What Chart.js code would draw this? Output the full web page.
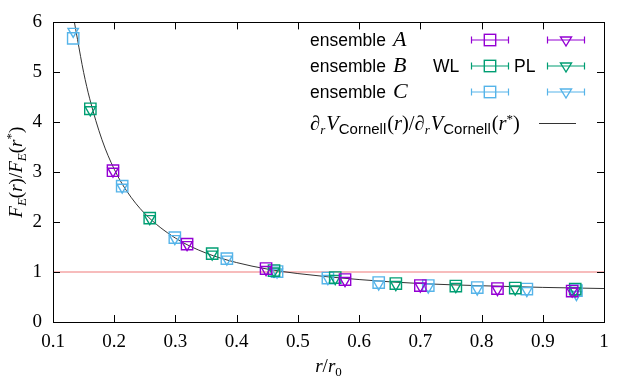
<!DOCTYPE html>
<html lang="en">
<head>
  <meta charset="UTF-8">
  <title>Force ratio vs r/r0</title>
  <style>
    html, body { margin: 0; padding: 0; background: #fff; }
    #wrap { width: 635px; height: 381px; }
  </style>
</head>
<body>
<div id="wrap"><canvas id="chart" width="635" height="381"></canvas></div>

<script src="https://cdn.jsdelivr.net/npm/chart.js"></script>
<script>
  // ensemble A (purple)
  const rA   = [0.198, 0.319, 0.448, 0.577, 0.700, 0.826, 0.948];
  const aWL  = [3.03, 1.56, 1.07, 0.85, 0.73, 0.67, 0.62];
  const aPL  = [3.02, 1.55, 1.05, 0.83, 0.72, 0.65, 0.62];

  // ensemble B (green)
  const rB   = [0.161, 0.258, 0.360, 0.461, 0.561, 0.660, 0.758, 0.855, 0.953];
  const bWL  = [4.27, 2.08, 1.37, 1.03, 0.89, 0.77, 0.72, 0.68, 0.66];
  const bPL  = [4.25, 2.07, 1.36, 1.02, 0.87, 0.75, 0.71, 0.66, 0.63];

  // ensemble C (light blue)
  const rC   = [0.133, 0.213, 0.299, 0.384, 0.466, 0.549, 0.632, 0.713, 0.793, 0.874, 0.955];
  const cWL  = [5.68, 2.72, 1.69, 1.27, 1.01, 0.88, 0.79, 0.73, 0.69, 0.66, 0.63];
  const cPL  = [5.82, 2.70, 1.67, 1.26, 1.00, 0.87, 0.76, 0.70, 0.66, 0.63, 0.55];

  // Cornell force ratio curve
  const curveR = [0.135, 0.14, 0.15, 0.16, 0.18, 0.20, 0.22, 0.25, 0.30, 0.35, 0.40, 0.45, 0.50, 0.60, 0.70, 0.80, 0.90, 1.00];
  const curveV = [6.00, 5.66, 5.00, 4.47, 3.65, 3.06, 2.63, 2.17, 1.68, 1.38, 1.19, 1.06, 0.97, 0.85, 0.77, 0.726, 0.693, 0.67];

  const refR = [0.1, 1.0];
  const refV = [1, 1];

  const xTicks = [0.1, 0.2, 0.3, 0.4, 0.5, 0.6, 0.7, 0.8, 0.9, 1];
  const yTicks = [0, 1, 2, 3, 4, 5, 6];

  const PURPLE = '#9400d3';
  const GREEN  = '#009e73';
  const BLUE   = '#56b4e9';

  const SERIF = "'Liberation Serif', serif";
  const SANS  = "'Liberation Sans', Arial, sans-serif";

  function pts(xs, ys) {
    return xs.map((x, i) => ({ x: x, y: ys[i] }));
  }

  function wl(label, xs, ys, color) {
    return {
      label: label, data: pts(xs, ys), showLine: false,
      pointStyle: 'rect', pointRadius: 8, pointHoverRadius: 8,
      borderColor: color, backgroundColor: 'rgba(0,0,0,0)', pointBorderWidth: 1.4
    };
  }
  function pl(label, xs, ys, color) {
    return {
      label: label, data: pts(xs, ys), showLine: false,
      pointStyle: 'triangle', pointRotation: 180, pointRadius: 6, pointHoverRadius: 6,
      borderColor: color, backgroundColor: 'rgba(0,0,0,0)', pointBorderWidth: 1.4
    };
  }

  function drawRich(ctx, parts, x, y, align) {
    let w = 0;
    parts.forEach(p => { ctx.font = p.font; p.w = ctx.measureText(p.t).width; w += p.w + (p.dx || 0); });
    let cx = align === 'center' ? x - w / 2 : x;
    parts.forEach(p => {
      ctx.font = p.font;
      cx += p.dx || 0;
      ctx.fillText(p.t, cx, y + (p.dy || 0));
      cx += p.w;
    });
    return w;
  }

  const it  = "italic 19px " + SERIF;
  const up  = "19px " + SERIF;
  const sub = "italic 13px " + SERIF;
  const subUp = "13px " + SERIF;
  const fIt = "italic 20.5px " + SERIF;
  const fUp = "20.5px " + SERIF;

  function errbar(ctx, cx, cy, color) {
    ctx.strokeStyle = color;
    ctx.lineWidth = 1.2;
    ctx.beginPath();
    ctx.moveTo(cx - 18.5, cy); ctx.lineTo(cx + 18.5, cy);
    ctx.moveTo(cx - 18.5, cy - 3.5); ctx.lineTo(cx - 18.5, cy + 3.5);
    ctx.moveTo(cx + 18.5, cy - 3.5); ctx.lineTo(cx + 18.5, cy + 3.5);
    ctx.stroke();
  }
  function square(ctx, cx, cy, color) {
    ctx.strokeStyle = color; ctx.lineWidth = 1.4;
    ctx.strokeRect(cx - 5.7, cy - 5.7, 11.4, 11.4);
  }
  function triangle(ctx, cx, cy, color) {
    ctx.strokeStyle = color; ctx.lineWidth = 1.4;
    ctx.beginPath();
    ctx.moveTo(cx - 5.5, cy - 3); ctx.lineTo(cx + 5.5, cy - 3); ctx.lineTo(cx, cy + 6); ctx.closePath();
    ctx.stroke();
  }

  const framePlugin = {
    id: 'frame',
    beforeDraw(chart) {
      const ctx = chart.ctx;
      ctx.save();
      ctx.fillStyle = '#fff';
      ctx.fillRect(0, 0, chart.width, chart.height);
      ctx.restore();
    },
    afterDraw(chart) {
      const ctx = chart.ctx;
      const a = chart.chartArea;
      const xs = chart.scales.x, ys = chart.scales.y;
      ctx.save();
      ctx.strokeStyle = '#000';
      ctx.lineWidth = 1;
      ctx.strokeRect(Math.round(a.left) + 0.5, Math.round(a.top) + 0.5, Math.round(a.right - a.left), Math.round(a.bottom - a.top));
      ctx.beginPath();
      xTicks.forEach(v => {
        const px = Math.round(xs.getPixelForValue(v)) + 0.5;
        ctx.moveTo(px, a.bottom); ctx.lineTo(px, a.bottom - 7);
        ctx.moveTo(px, a.top); ctx.lineTo(px, a.top + 7);
      });
      yTicks.forEach(v => {
        const py = Math.round(ys.getPixelForValue(v)) + 0.5;
        ctx.moveTo(a.left, py); ctx.lineTo(a.left + 7, py);
        ctx.moveTo(a.right, py); ctx.lineTo(a.right - 7, py);
      });
      ctx.stroke();

      // axis titles
      ctx.fillStyle = '#000';
      ctx.textBaseline = 'alphabetic';
      drawRich(ctx, [
        { t: 'r', font: it }, { t: '/', font: up }, { t: 'r', font: it }, { t: '0', font: subUp, dy: 4 }
      ], (a.left + a.right) / 2, 372, 'center');

      ctx.save();
      ctx.translate(22, (a.top + a.bottom) / 2);
      ctx.rotate(-Math.PI / 2);
      drawRich(ctx, [
        { t: 'F', font: it }, { t: 'E', font: sub, dy: 4 }, { t: '(', font: up }, { t: 'r', font: it },
        { t: ')/', font: up }, { t: 'F', font: it }, { t: 'E', font: sub, dy: 4 }, { t: '(', font: up },
        { t: 'r', font: it }, { t: '*', font: subUp, dy: -7 }, { t: ')', font: up }
      ], 0, 0, 'center');
      ctx.restore();

      // legend
      const rows = [['A', PURPLE, 40], ['B', GREEN, 66], ['C', BLUE, 92]];
      rows.forEach(r => {
        drawRich(ctx, [{ t: 'ensemble', font: "17.5px " + SANS }, { t: r[0], font: "italic 22px " + SERIF, dx: 7 }], 310, r[2] + 6, 'left');
        errbar(ctx, 490, r[2], r[1]);
        square(ctx, 490, r[2], r[1]);
        errbar(ctx, 566, r[2], r[1]);
        triangle(ctx, 566, r[2], r[1]);
      });
      ctx.fillStyle = '#000';
      ctx.font = "17.5px " + SANS;
      ctx.fillText('WL', 433, 72);
      ctx.fillText('PL', 514, 72);

      const cs = "15px " + SANS;
      drawRich(ctx, [
        { t: '\u2202', font: fIt }, { t: 'r', font: sub, dy: 4 }, { t: 'V', font: fIt, dx: 1 },
        { t: 'Cornell', font: cs, dy: 4 }, { t: '(', font: fUp, dx: 1 }, { t: 'r', font: fIt },
        { t: ')/', font: fUp },
        { t: '\u2202', font: fIt }, { t: 'r', font: sub, dy: 4 }, { t: 'V', font: fIt, dx: 1 },
        { t: 'Cornell', font: cs, dy: 4 }, { t: '(', font: fUp, dx: 1 }, { t: 'r', font: fIt },
        { t: '*', font: subUp, dy: -7 }, { t: ')', font: fUp }
      ], 310, 130, 'left');
      ctx.strokeStyle = '#333';
      ctx.lineWidth = 1;
      ctx.beginPath();
      ctx.moveTo(539, 123.5); ctx.lineTo(576, 123.5);
      ctx.stroke();
      ctx.restore();
    }
  };

  const ctx = document.getElementById('chart').getContext('2d');
  new Chart(ctx, {
    type: 'scatter',
    data: {
      datasets: [
        wl('A WL', rA, aWL, PURPLE), pl('A PL', rA, aPL, PURPLE),
        wl('B WL', rB, bWL, GREEN),  pl('B PL', rB, bPL, GREEN),
        wl('C WL', rC, cWL, BLUE),   pl('C PL', rC, cPL, BLUE),
        {
          label: 'Cornell', data: pts(curveR, curveV), showLine: true,
          borderColor: '#333', borderWidth: 1, pointRadius: 0, cubicInterpolationMode: 'monotone'
        },
        {
          label: 'one', data: pts(refR, refV), showLine: true,
          borderColor: '#f4a6a6', borderWidth: 1.5, pointRadius: 0
        }
      ]
    },
    options: {
      responsive: false,
      animation: false,
      devicePixelRatio: 1,
      layout: { padding: { top: 19, right: 31, left: 0, bottom: 0 } },
      plugins: { legend: { display: false }, tooltip: { enabled: false } },
      scales: {
        x: {
          type: 'linear', min: 0.1, max: 1,
          grid: { display: false, drawTicks: false }, border: { display: false },
          afterBuildTicks: s => { s.ticks = xTicks.map(v => ({ value: v })); },
          afterFit: s => { s.height = 59; },
          ticks: {
            padding: 9, color: '#000', maxRotation: 0,
            font: { family: SERIF, size: 19 },
            callback: v => (v === 1 ? '1' : v.toFixed(1))
          }
        },
        y: {
          min: 0, max: 6,
          grid: { display: false, drawTicks: false }, border: { display: false },
          afterBuildTicks: s => { s.ticks = yTicks.map(v => ({ value: v })); },
          afterFit: s => { s.width = 53; },
          ticks: {
            padding: 11, color: '#000',
            font: { family: SERIF, size: 19 },
            callback: v => String(v)
          }
        }
      }
    },
    plugins: [framePlugin]
  });
</script>
</body>
</html>
